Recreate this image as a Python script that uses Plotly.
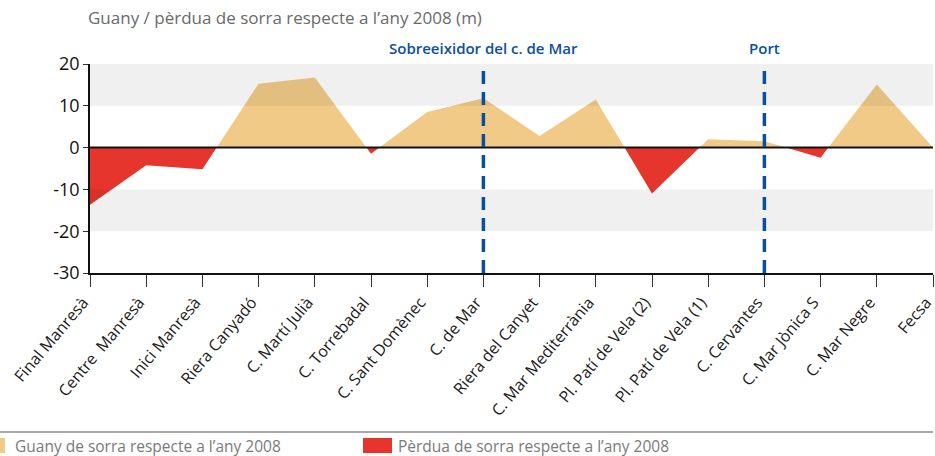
import plotly.graph_objects as go

categories = ["Final Manresà", "Centre  Manresà", "Inici Manresà", "Riera Canyadó",
              "C. Martí Julià", "C. Torrebadal", "C. Sant Domènec", "C. de Mar",
              "Riera del Canyet", "C. Mar Mediterrània", "Pl. Patí de Vela (2)",
              "Pl. Patí de Vela (1)", "C. Cervantes", "C. Mar Jònica S", "C. Mar Negre", "Fecsa"]
values = [-13.7, -4.2, -5.2, 15.3, 16.8, -1.5, 8.5, 11.8, 2.8, 11.5, -11.0, 2.0, 1.5, -2.4, 15.1, 0.0]
y_ticks = [20, 10, 0, -10, -20, -30]
markers = [("C. de Mar", "Sobreeixidor del c. de Mar"), ("C. Cervantes", "Port")]

TAN = "#F2CA88"
RED = "#E5352C"
BLUE = "#0B4F9C"

# split the series at zero crossings so each sign gets its own fill
xs, ys = [], []
for i, v in enumerate(values):
    if i > 0:
        p = values[i - 1]
        if (p > 0 > v) or (p < 0 < v):
            t = p / (p - v)
            xs.append(i - 1 + t)
            ys.append(0.0)
    xs.append(float(i))
    ys.append(v)
pos = [max(v, 0) for v in ys]
neg = [min(v, 0) for v in ys]

fig = go.Figure()
fig.add_trace(go.Scatter(x=xs, y=pos, mode="lines", line=dict(width=0), fill="tozeroy",
                         fillcolor=TAN, showlegend=False, hoverinfo="skip"))
fig.add_trace(go.Scatter(x=xs, y=neg, mode="lines", line=dict(width=0), fill="tozeroy",
                         fillcolor=RED, showlegend=False, hoverinfo="skip"))

# plot geometry (pixels)
L, R, T, B = 90, 933, 64, 273
W, H = 935, 456
def px(x):
    return (x - L) / (R - L)
def py(y):
    return (B - y) / (B - T)

shapes = []
for lo, hi in [(10, 20), (-20, -10)]:
    shapes.append(dict(type="rect", xref="paper", yref="y", x0=0, x1=1, y0=lo, y1=hi,
                       fillcolor="rgba(0,14,0,0.062)", line=dict(width=0), layer="above"))
shapes.append(dict(type="line", xref="paper", yref="y", x0=0, x1=1, y0=0, y1=0,
                   line=dict(color="#111", width=2), layer="above"))
annotations = []
for cat, label in markers:
    i = categories.index(cat)
    shapes.append(dict(type="line", xref="x", yref="y", x0=i, x1=i, y0=-30, y1=20,
                       line=dict(color=BLUE, width=3.5, dash="13px,8px"), layer="above"))
    annotations.append(dict(x=i, y=py(48), xref="x", yref="paper", text=label, showarrow=False,
                            font=dict(color=BLUE, size=15, family="Open Sans", weight=600),
                            xanchor="center", yanchor="middle"))

# title
annotations.append(dict(x=px(86), y=py(18), xref="paper", yref="paper",
                        text="Guany / pèrdua de sorra respecte a l’any 2008 (m)", showarrow=False,
                        font=dict(color="#6A6A6A", size=17, family="Open Sans"),
                        xanchor="left", yanchor="middle"))

# legend
shapes.append(dict(type="line", xref="paper", yref="paper", x0=px(0), x1=px(933), y0=py(432), y1=py(432),
                   line=dict(color="#A8A8A8", width=2)))
shapes.append(dict(type="rect", xref="paper", yref="paper", x0=px(-24), x1=px(5), y0=py(453), y1=py(438),
                   fillcolor=TAN, line=dict(width=0)))
shapes.append(dict(type="rect", xref="paper", yref="paper", x0=px(363), x1=px(392), y0=py(453), y1=py(438),
                   fillcolor=RED, line=dict(width=0)))
for x0, txt in [(13, "Guany de sorra respecte a l’any 2008"), (396, "Pèrdua de sorra respecte a l’any 2008")]:
    annotations.append(dict(x=px(x0), y=py(446), xref="paper", yref="paper", text=txt, showarrow=False,
                            font=dict(color="#7A7A7A", size=15.5, family="Open Sans"),
                            xanchor="left", yanchor="middle"))

fig.update_layout(
    width=W, height=H,
    margin=dict(l=L, r=W - R, t=T, b=H - B, autoexpand=False),
    plot_bgcolor="white", paper_bgcolor="white",
    shapes=shapes, annotations=annotations,
    font=dict(family="Open Sans"),
)
fig.update_xaxes(range=[0, len(categories) - 1], tickvals=list(range(len(categories))), ticktext=categories,
                 tickangle=-50, showgrid=False, zeroline=False, showline=True, linecolor="#111", linewidth=1.5,
                 ticks="outside", ticklen=12, tickwidth=1, tickcolor="#333", automargin=False,
                 ticklabeloverflow="allow", ticklabelshift=-7,
                 tickfont=dict(size=16, color="#1a1a1a", family="Open Sans"))
fig.update_yaxes(range=[-30, 20], tickvals=y_ticks, ticktext=[str(v) for v in y_ticks],
                 showgrid=False, zeroline=False, showline=True, linecolor="#111", linewidth=1.5,
                 ticks="outside", ticklen=5, tickwidth=1, tickcolor="#333", automargin=False,
                 tickfont=dict(size=18, color="#111", family="Open Sans"))

fig.write_html("out.html", config={"displayModeBar": False},
               post_script="document.body.style.margin='0';document.body.style.overflow='hidden';")
